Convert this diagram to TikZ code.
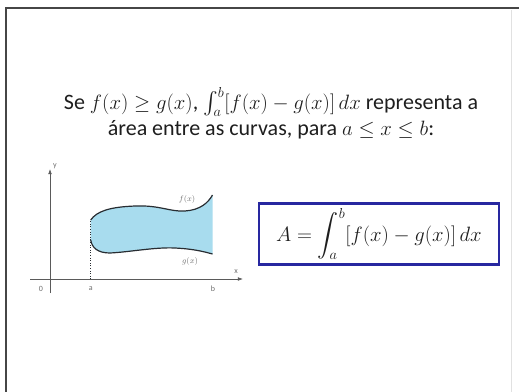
\documentclass[tikz,border=0pt]{standalone}
\usepackage{amsmath}
\usepackage{amssymb}
\usepackage{fontspec}
\setmainfont{Carlito}
\usetikzlibrary{
  arrows.meta,
  positioning
}
\definecolor{framecolor}{RGB}{70, 70, 70}
\definecolor{edgecolor}{RGB}{225, 225, 225}
\definecolor{textcolor}{RGB}{30, 30, 30}
\definecolor{axiscolor}{RGB}{90, 90, 90}
\definecolor{areacolor}{RGB}{168, 220, 238}
\definecolor{curvecolor}{RGB}{40, 45, 50}
\definecolor{boxcolor}{RGB}{40, 40, 160}
\definecolor{smallcolor}{RGB}{110, 110, 110}
\tikzset{
slideframe/.style={
  draw=framecolor,
  line width=1.6pt
},
slideedge/.style={
  draw=edgecolor,
  line width=0.8pt
},
headtext/.style={
  align=center,
  font=\fontsize{22}{26}\selectfont,
  text=textcolor
},
axis/.style={
  draw=axiscolor,
  line width=0.6pt
},
axisarrow/.style={
  axis,
  -{Latex[length=1.8mm,width=1.3mm]}
},
curve/.style={
  draw=curvecolor,
  line width=1.2pt
},
guide/.style={
  draw=curvecolor,
  dotted,
  line width=0.6pt
},
ticklabel/.style={
  font=\fontsize{8}{9}\selectfont,
  text=smallcolor,
  inner sep=1pt
},
resultbox/.style={
  draw=boxcolor,
  line width=2.4pt,
  minimum width=240pt,
  minimum height=61pt,
  inner sep=2pt,
  font=\fontsize{21}{22}\selectfont,
  text=textcolor
}
}

\begin{document}
\begin{tikzpicture}[x=1pt,y=-1pt]
  \useasboundingbox (0,0) rectangle (519,391);
  % slide border
  \draw[slideframe] (6,394) -- (6,8) -- (522,8);
  \draw[slideedge] (511,10) -- (511,394);

  \node[headtext] (statement) at (271,113) {%
    Se $f(x) \geq g(x)$, $\int_{a}^{b}[f(x) - g(x)]\,dx$ representa a\\
    área entre as curvas, para $a \leq x \leq b$:};

  % region between the curves
  \fill[areacolor] (90.7,220) .. controls (97,211) and (110,207) .. (135,206)
    .. controls (160,205) and (170,212) .. (185,211)
    .. controls (200,210) and (208,203) .. (212.5,195)
    -- (212.5,254)
    .. controls (205,252) and (195,249) .. (175,248)
    .. controls (155,247) and (130,252) .. (110,253)
    .. controls (98,253) and (92,248) .. (90.7,240) -- cycle;
  \draw[curve] (90.7,220) .. controls (97,211) and (110,207) .. (135,206)
    .. controls (160,205) and (170,212) .. (185,211)
    .. controls (200,210) and (208,203) .. (212.5,195);
  \draw[curve] (90.7,240) .. controls (92,248) and (98,253) .. (110,253)
    .. controls (130,252) and (155,247) .. (175,248)
    .. controls (195,249) and (205,252) .. (212.5,254);

  \coordinate (origin) at (50,279);
  \coordinate (xstart) at (30,279);
  \coordinate (xend) at (243,279);
  \coordinate (ystart) at (50,293);
  \coordinate (yend) at (50,169);
  \coordinate (afoot) at (90.7,279);
  \coordinate (atop) at (90.7,220);
  \draw[axisarrow] (xstart) -- (xend);
  \draw[axisarrow] (ystart) -- (yend);
  \draw[guide] (afoot) -- (atop);

  \node[ticklabel] (ylabel) at (55,166) {y};
  \node[ticklabel] (xlabel) at (236,272) {x};
  \node[ticklabel] (zerolabel) at (41,289) {0};
  \node[ticklabel] (alabel) at (90.7,289) {a};
  \node[ticklabel] (blabel) at (213,289) {b};
  \node[ticklabel] (flabel) at (187,199) {$f(x)$};
  \node[ticklabel] (glabel) at (190,261) {$g(x)$};

  \node[resultbox] (formula) at (379,234)
    {$A = \displaystyle\int_{a}^{b}[f(x) - g(x)]\,dx$};
\end{tikzpicture}
\end{document}
